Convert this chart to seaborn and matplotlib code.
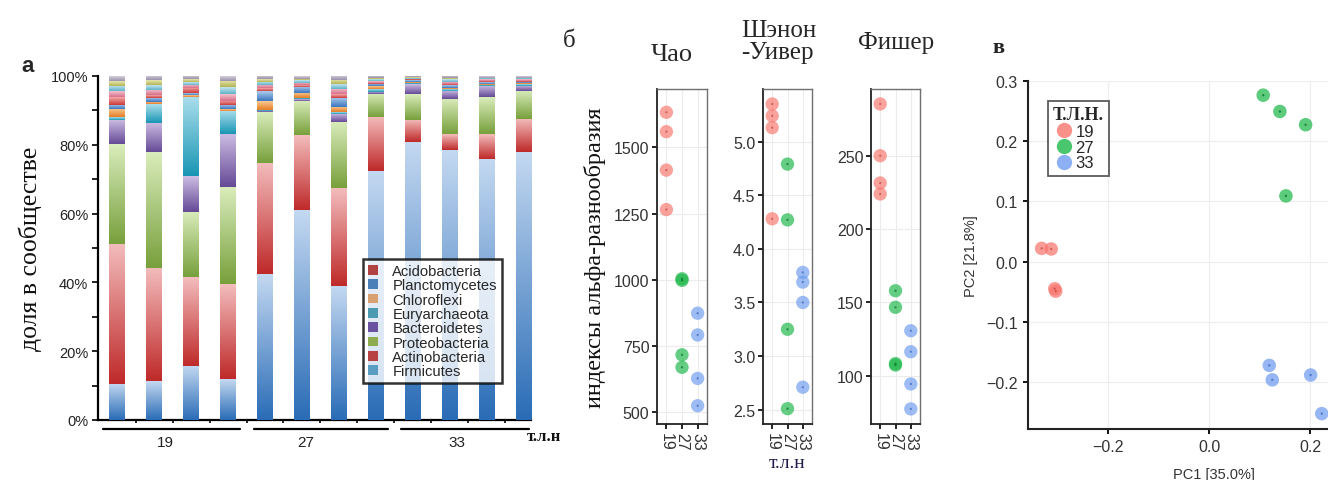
import numpy as np
import pandas as pd
import matplotlib
matplotlib.use("Agg")
import matplotlib.pyplot as plt
import matplotlib.colors as mcolors
from matplotlib.patches import Patch
from matplotlib.lines import Line2D
from matplotlib.transforms import blended_transform_factory
import seaborn as sns

sns.set_theme(style="white")
plt.rcParams["font.family"] = ["Liberation Sans", "DejaVu Sans"]
SERIF = ["Liberation Serif", "DejaVu Serif"]

# ---------------- data: community composition (%), 12 samples ----------------
samples = [f"S{i}" for i in range(1, 13)]
age_groups = ["19", "27", "33"]

firmicutes     = [10.5, 11.3, 15.8, 11.9, 42.4, 61.0, 38.9, 72.3, 80.9, 78.6, 76.0, 77.8]
actinobacteria = [40.7, 32.9, 25.8, 27.6, 32.3, 21.8, 28.4, 15.7, 6.4, 4.5, 7.1, 9.7]
proteobacteria = [29.0, 33.6, 18.9, 28.1, 14.7, 10.0, 19.2, 6.8, 7.5, 10.2, 10.7, 8.2]
bacteroidetes  = [7.0, 8.5, 10.4, 15.5, 0.4, 0.4, 2.4, 0.6, 2.9, 2.4, 3.2, 1.5]
euryarchaeota  = [0.8, 5.5, 23.1, 6.8, 0.4, 0.3, 0.5, 0.8, 0.3, 0.4, 0.4, 0.4]
chloroflexi    = [2.5, 0.7, 0.5, 0.5, 2.6, 1.6, 1.5, 0.8, 0.4, 0.5, 0.4, 0.3]
planctomycetes = [1.2, 1.2, 0.5, 1.2, 2.8, 1.8, 2.8, 0.6, 0.3, 0.7, 0.4, 0.4]
acidobacteria  = [2.3, 0.8, 1.6, 1.2, 0.8, 0.5, 1.0, 0.5, 0.3, 0.5, 0.4, 0.3]
minor_a        = [1.6, 1.5, 0.9, 2.0, 1.0, 0.7, 1.5, 0.5, 0.2, 0.6, 0.4, 0.4]
minor_b        = [1.6, 1.4, 0.8, 2.0, 0.9, 0.6, 1.4, 0.5, 0.3, 0.6, 0.3, 0.3]
minor_c        = [1.4, 1.3, 0.7, 1.8, 0.8, 0.5, 1.2, 0.3, 0.2, 0.4, 0.2, 0.2]
minor_rest     = [1.4, 1.3, 1.0, 1.4, 0.9, 0.8, 1.2, 0.6, 0.3, 0.6, 0.5, 0.5]

# bottom-to-top stacking: (name, values, gradient dark, gradient light)
stack = [
    ("Firmicutes",     firmicutes,     "#2a6cb6", "#c3d8f1"),
    ("Actinobacteria", actinobacteria, "#bf2a2a", "#f3bcbc"),
    ("Proteobacteria", proteobacteria, "#78a03c", "#d9ecbb"),
    ("Bacteroidetes",  bacteroidetes,  "#654a96", "#cdbde3"),
    ("Euryarchaeota",  euryarchaeota,  "#1996b4", "#aadeec"),
    ("Chloroflexi",    chloroflexi,    "#e57d26", "#f8cb94"),
    ("Planctomycetes", planctomycetes, "#3a76c0", "#aecbec"),
    ("Acidobacteria",  acidobacteria,  "#cc3a3a", "#f2aaaa"),
    ("minor_a",        minor_a,        "#d86f88", "#f3c3cf"),
    ("minor_b",        minor_b,        "#5fb3c9", "#c5e6ef"),
    ("minor_c",        minor_c,        "#b4b452", "#e6e6b2"),
    ("minor_rest",     minor_rest,     "#9a90a8", "#d6d0dc"),
]

legend_names = ["Acidobacteria", "Planctomycetes", "Chloroflexi", "Euryarchaeota",
                "Bacteroidetes", "Proteobacteria", "Actinobacteria", "Firmicutes"]
legend_colors = ["#b04242", "#4a7fb8", "#d9a072", "#4c9ab2",
                 "#6a52a0", "#8fab50", "#b84242", "#5a9cc2"]

# ---------------- data: alpha diversity ----------------
alpha_group = ["19"] * 4 + ["27"] * 4 + ["33"] * 4
chao    = [1632, 1559, 1414, 1265, 1004, 998, 717, 670, 874, 792, 628, 525]
shannon = [5.35, 5.24, 5.13, 4.28, 4.79, 4.27, 3.25, 2.51, 3.78, 3.69, 3.50, 2.71]
fisher  = [285.3, 250.0, 231.4, 223.9, 157.9, 146.6, 108.2, 107.2, 130.6, 116.3, 94.3, 77.3]

# ---------------- data: PCA ----------------
pca_group = ["19"] * 4 + ["27"] * 4 + ["33"] * 4
pc1 = [-0.332, -0.313, -0.306, -0.304, 0.107, 0.140, 0.191, 0.152, 0.119, 0.125, 0.201, 0.223]
pc2 = [0.022, 0.021, -0.045, -0.049, 0.276, 0.249, 0.227, 0.109, -0.172, -0.196, -0.188, -0.252]

group_palette = {"19": "#F8766D", "27": "#1DB84A", "33": "#6F9CF0"}
group_dot = {"19": "#c9504a", "27": "#0a7a2a", "33": "#3f6fc0"}

# ---------------- figure geometry ----------------
W, H = 1328, 481
fig = plt.figure(figsize=(W / 100, H / 100), dpi=100)
fig.patch.set_facecolor("white")


def px_axes(x0, y0, x1, y1):
    return fig.add_axes([x0 / W, 1 - y1 / H, (x1 - x0) / W, (y1 - y0) / H])


def fx(x):
    return x / W


def fy(y):
    return 1 - y / H


# ================= panel a: stacked composition =================
ax = px_axes(98, 77, 531, 421)
values = np.array([s[1] for s in stack])
cum = np.cumsum(values, axis=0)
bar_w = 0.43
patch_layers = {}
for k in reversed(range(len(stack))):
    n0 = len(ax.patches)
    sns.barplot(x=samples, y=cum[k], order=samples, color=stack[k][2], width=bar_w,
                saturation=1, errorbar=None, linewidth=0, ax=ax)
    patch_layers[k] = ax.patches[n0:]

# shade each segment from dark (bottom) to light (top)
ramp = np.linspace(0, 1, 64)[:, None]
for k, (name, vals, dark, light) in enumerate(stack):
    c0 = np.array(mcolors.to_rgb(dark))
    c1 = np.array(mcolors.to_rgb(light))
    img = (c0 * (1 - ramp) + c1 * ramp)[:, None, :]
    for i, p in enumerate(patch_layers[k]):
        lo = cum[k - 1][i] if k > 0 else 0.0
        hi = cum[k][i]
        ax.imshow(img, extent=[p.get_x(), p.get_x() + p.get_width(), lo, hi],
                  origin="lower", aspect="auto", interpolation="bilinear", zorder=3)

ax.set_xlim(-0.52, 11.2)
ax.set_ylim(0, 100)
ax.set_yticks(np.arange(0, 101, 20))
ax.set_yticks(np.arange(10, 100, 20), minor=True)
ax.set_yticklabels([f"{v}%" for v in range(0, 101, 20)], fontsize=10.5, color="#222222")
ax.set_xticks(np.arange(0.5, 11, 1))
ax.set_xticklabels([])
ax.set_xlabel("")
ax.set_ylabel("доля в сообществе", family=SERIF, fontsize=18.5, labelpad=6, color="#111111")
for s in ["top", "right"]:
    ax.spines[s].set_visible(False)
for s in ["left", "bottom"]:
    ax.spines[s].set_color("black")
    ax.spines[s].set_linewidth(1.6)
ax.tick_params(axis="y", which="both", direction="out", length=4, width=1.2, color="black", left=True, pad=3)
ax.tick_params(axis="x", direction="out", length=2, width=1.2, color="black", bottom=True)

trans = blended_transform_factory(ax.transData, ax.transAxes)
group_spans = [(-0.38, 3.33), (3.69, 7.34), (7.67, 11.14)]
group_label_x = [1.3, 5.1, 9.2]
for (a, b), lx, g in zip(group_spans, group_label_x, age_groups):
    ax.plot([a, b], [-0.025, -0.025], color="black", lw=1.6, transform=trans, clip_on=False)
    ax.text(lx, -0.065, g, transform=trans, ha="center", va="center",
            fontsize=11, color="#222222")
ax.text(11.55, -0.047, "т.л.н", transform=trans, ha="center", va="center",
        family=SERIF, fontsize=12, fontweight="bold", color="#111111")

leg_handles = [Patch(facecolor=c, edgecolor="none") for c in legend_colors]
leg = fig.legend(leg_handles, legend_names, loc="upper left",
                 bbox_to_anchor=(fx(363), fy(260)), fontsize=10.6, frameon=True,
                 fancybox=False, handlelength=0.65, handleheight=0.65, handletextpad=1.0,
                 labelspacing=0.02, borderpad=0.35, borderaxespad=0)
leg.get_frame().set_edgecolor("black")
leg.get_frame().set_linewidth(1.8)
leg.set_zorder(10)

fig.text(fx(28), fy(66), "а", fontsize=16, fontweight="bold", ha="center", va="center")

# ================= panel б: alpha diversity =================
alpha_df = pd.DataFrame({"group": alpha_group, "Чао": chao,
                         "Шэнон-Уивер": shannon, "Фишер": fisher})
panels = [
    ("Чао",         (657, 90, 707, 425), (456, 1720), [500, 750, 1000, 1250, 1500], "{:.0f}"),
    ("Шэнон-Уивер", (763, 90, 812, 425), (2.367, 5.49), [2.5, 3.0, 3.5, 4.0, 4.5, 5.0], "{:.1f}"),
    ("Фишер",       (871, 90, 920, 425), (67, 295.5), [100, 150, 200, 250], "{:.0f}"),
]
for idx, (col, box, ylim, yt, fmt) in enumerate(panels):
    axb = px_axes(*box)
    sns.stripplot(data=alpha_df, x="group", y=col, hue="group", order=age_groups,
                  palette=group_palette, jitter=False, size=9.6, alpha=0.68,
                  linewidth=0, legend=False, ax=axb, zorder=3)
    sns.stripplot(data=alpha_df, x="group", y=col, hue="group", order=age_groups,
                  palette=group_dot, jitter=False, size=1.6, alpha=0.8,
                  linewidth=0, legend=False, ax=axb, zorder=4)
    axb.set_xlim(-0.6, 2.6)
    axb.set_ylim(*ylim)
    axb.set_yticks(yt)
    axb.set_yticklabels([fmt.format(v) for v in yt], fontsize=11.5, color="#333333")
    axb.set_xticks([0, 1, 2])
    axb.set_xticklabels(age_groups, rotation=-90, fontsize=11.5, color="#333333")
    axb.set_xlabel("")
    axb.set_ylabel("")
    axb.grid(True, color="#ececec", lw=0.8)
    axb.set_axisbelow(True)
    for s in ["top", "right"]:
        axb.spines[s].set_color("#707070")
        axb.spines[s].set_linewidth(1.0)
    for s in ["left", "bottom"]:
        axb.spines[s].set_color("#222222")
        axb.spines[s].set_linewidth(1.3)
    axb.tick_params(axis="both", direction="out", length=3.5, width=1.2, color="black",
                    left=True, bottom=True, pad=2)
    if idx == 0:
        axb.set_ylabel("индексы альфа-разнообразия", family=SERIF, fontsize=17.5,
                       labelpad=6, color="#111111")

fig.text(fx(672), fy(55), "Чао", family=SERIF, fontsize=19, ha="center", va="center")
fig.text(fx(741), fy(42), "Шэнон\n-Уивер", family=SERIF, fontsize=18, ha="left", va="center",
         linespacing=1.05)
fig.text(fx(896), fy(43), "Фишер", family=SERIF, fontsize=18, ha="center", va="center")
fig.text(fx(569), fy(41), "б", family=SERIF, fontsize=18, ha="center", va="center")
fig.text(fx(787), fy(464), "т.л.н", family=SERIF, fontsize=14, ha="center", va="center",
         color="#1c1c4a")

# ================= panel в: PCA =================
axp = px_axes(1028, 81.7, 1400, 430)
pca_df = pd.DataFrame({"PC1": pc1, "PC2": pc2, "group": pca_group})
sns.scatterplot(data=pca_df, x="PC1", y="PC2", hue="group", hue_order=age_groups,
                palette=group_palette, s=95, alpha=0.72, linewidth=0, legend=False,
                ax=axp, zorder=3)
sns.scatterplot(data=pca_df, x="PC1", y="PC2", hue="group", hue_order=age_groups,
                palette=group_dot, s=3, alpha=0.8, linewidth=0, legend=False,
                ax=axp, zorder=4)
axp.set_xlim(-0.359, 0.378)
axp.set_ylim(-0.2775, 0.3)
axp.set_xticks([-0.2, 0.0, 0.2])
axp.set_xticklabels(["\u22120.2", "0.0", "0.2"], fontsize=11.5, color="#333333")
axp.set_yticks([-0.2, -0.1, 0.0, 0.1, 0.2, 0.3])
axp.set_yticklabels(["\u22120.2", "\u22120.1", "0.0", "0.1", "0.2", "0.3"], fontsize=11.5,
                    color="#333333")
axp.set_xlabel("PC1 [35.0%]", fontsize=10.5, color="#333333", labelpad=9)
axp.set_ylabel("PC2 [21.8%]", fontsize=10.5, color="#333333", labelpad=6)
axp.grid(True, color="#eeeeee", lw=0.9)
axp.set_axisbelow(True)
for s in ["top", "right"]:
    axp.spines[s].set_visible(False)
for s in ["left", "bottom"]:
    axp.spines[s].set_color("#222222")
    axp.spines[s].set_linewidth(1.5)
axp.tick_params(axis="both", direction="out", length=3.5, width=1.3, color="black",
                left=True, bottom=True, pad=4)

pca_handles = [Line2D([0], [0], marker="o", linestyle="none", markersize=11,
                      markerfacecolor=group_palette[g], markeredgecolor="none", alpha=0.8)
               for g in age_groups]
pleg = fig.legend(pca_handles, age_groups, title="Т.Л.Н.", loc="upper left",
                  bbox_to_anchor=(fx(1048), fy(102)), fontsize=12, frameon=True,
                  fancybox=False, handlelength=1.3, handletextpad=0.05, labelspacing=0.05,
                  borderpad=0.3, borderaxespad=0, alignment="left")
pleg.get_title().set_fontfamily(SERIF)
pleg.get_title().set_fontweight("bold")
pleg.get_title().set_fontsize(13)
pleg.get_frame().set_edgecolor("#333333")
pleg.get_frame().set_linewidth(1.3)

fig.text(fx(998), fy(48), "в", family=SERIF, fontsize=16, fontweight="bold",
         ha="center", va="center")

fig.savefig("out.png", dpi=100, facecolor="white")
